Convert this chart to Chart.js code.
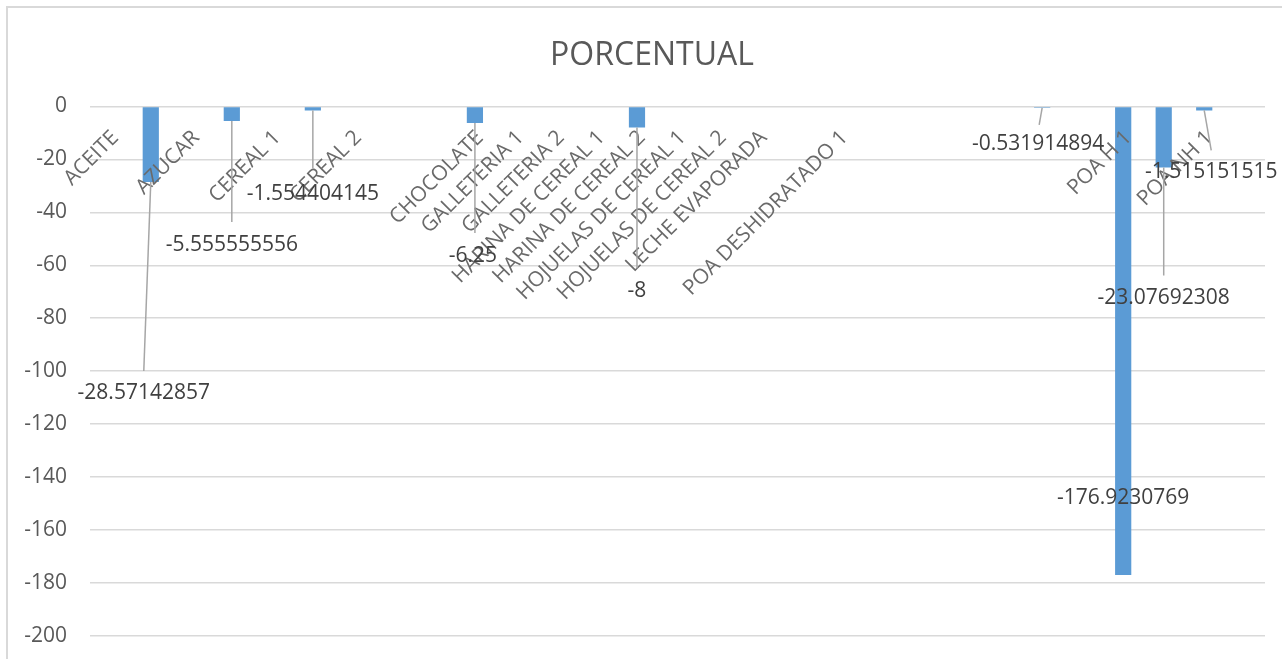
<!DOCTYPE html>
<html>
<head>
<meta charset="utf-8">
<title>PORCENTUAL</title>
<script src="https://cdn.jsdelivr.net/npm/chart.js@4.4.0/dist/chart.umd.min.js"></script>
<style>
  html, body { margin: 0; padding: 0; background: #fff; }
  #wrap { width: 1282px; height: 659px; position: relative; }
</style>
</head>
<body>
<div id="wrap"><canvas id="chart"></canvas></div>
<script>
// 29 category slots; the sheet only labels some of them
const categories = [
  'ACEITE', '', 'AZUCAR', '', 'CEREAL 1', '', 'CEREAL 2', '', '',
  'CHOCOLATE', 'GALLETERIA 1', 'GALLETERIA 2', 'HARINA DE CEREAL 1', 'HARINA DE CEREAL 2',
  'HOJUELAS DE CEREAL 1', 'HOJUELAS DE CEREAL 2', 'LECHE EVAPORADA', '', 'POA DESHIDRATADO 1',
  '', '', '', '', '', '', 'POA H 1', '', 'POA NH 1', ''
];
const porcentual = [
  null, -28.57142857, null, -5.555555556, null, -1.554404145, null, null, null,
  -6.25, null, null, null, -8,
  null, null, null, null, null,
  null, null, null, null, -0.531914894, null, -176.9230769, -23.07692308, -1.515151515, null
];
const yTicks = { min: -200, max: 0, step: 20 };

// where each data label sits, in px from the bar end (dx,dy = text centre, lx,ly = leader line end)
const labelPlacement = {
  1:  { dx: -7, dy: 211, lx: -7, ly: 189 },
  3:  { dx: 0,  dy: 124, lx: 0,  ly: 101 },
  5:  { dx: 0,  dy: 83,  lx: 0,  ly: 58 },
  9:  { dx: -2, dy: 133, lx: 0,  ly: 110 },
  13: { dx: 0,  dy: 163, lx: 0,  ly: 141 },
  23: { dx: -4, dy: 36,  lx: -3, ly: 17 },
  25: { dx: 0,  dy: -77, lx: null, ly: null },
  26: { dx: 0,  dy: 131, lx: 0,  ly: 108 },
  27: { dx: 7,  dy: 62,  lx: 7,  ly: 40 }
};

const FONT = '"Open Sans", "Noto Sans", sans-serif';

const excelBits = {
  id: 'excelBits',
  beforeDraw(chart) {
    const ctx = chart.ctx;
    ctx.save();
    ctx.strokeStyle = '#d9d9d9';
    ctx.lineWidth = 2;
    ctx.beginPath();
    ctx.moveTo(7, chart.height + 5);
    ctx.lineTo(7, 7);
    ctx.lineTo(chart.width + 5, 7);
    ctx.stroke();
    ctx.restore();
  },
  afterDatasetsDraw(chart) {
    const ctx = chart.ctx;
    const xs = chart.scales.x, ys = chart.scales.y;
    const meta = chart.getDatasetMeta(0);
    const zeroY = ys.getPixelForValue(0);

    ctx.save();
    // category names, rotated like the sheet
    ctx.font = '21px ' + FONT;
    ctx.fillStyle = '#6a6a6a';
    ctx.textAlign = 'right';
    ctx.textBaseline = 'middle';
    categories.forEach((c, i) => {
      if (!c) return;
      const x = xs.getPixelForValue(i) + 5;
      ctx.save();
      ctx.translate(x, zeroY + 28);
      ctx.rotate(-Math.PI / 4);
      ctx.fillText(c, 0, 0);
      ctx.restore();
    });

    // data labels with leader lines
    ctx.textAlign = 'center';
    porcentual.forEach((v, i) => {
      if (v === null) return;
      const bar = meta.data[i];
      const p = labelPlacement[i] || { dx: 0, dy: 20, lx: null, ly: null };
      if (p.lx !== null) {
        ctx.strokeStyle = '#a6a6a6';
        ctx.lineWidth = 1.5;
        ctx.beginPath();
        ctx.moveTo(bar.x, bar.y);
        ctx.lineTo(bar.x + p.lx, bar.y + p.ly);
        ctx.stroke();
      }
      ctx.fillStyle = '#404040';
      ctx.fillText(String(v), bar.x + p.dx, bar.y + p.dy);
    });
    ctx.restore();
  }
};

new Chart(document.getElementById('chart'), {
  type: 'bar',
  data: {
    labels: categories,
    datasets: [{
      label: 'PORCENTUAL',
      data: porcentual,
      backgroundColor: '#5b9bd5',
      barPercentage: 0.4,
      categoryPercentage: 1.0
    }]
  },
  options: {
    responsive: true,
    maintainAspectRatio: false,
    animation: false,
    layout: { padding: { left: 22, right: 0, top: 0, bottom: 23 } },
    plugins: {
      legend: { display: false },
      tooltip: { enabled: false },
      title: {
        display: true,
        text: 'PORCENTUAL',
        color: '#595959',
        font: { family: FONT, size: 32, weight: 'normal' },
        padding: { top: 37, bottom: 31 }
      }
    },
    scales: {
      x: { display: false },
      y: {
        min: yTicks.min,
        max: yTicks.max,
        afterFit(scale) {
          scale.width = 68;
          scale.paddingTop = 0;
          scale.paddingBottom = 0;
        },
        ticks: {
          stepSize: yTicks.step,
          color: '#595959',
          padding: 23,
          font: { family: FONT, size: 21 }
        },
        grid: { color: '#d9d9d9', lineWidth: 1.5, drawTicks: false },
        border: { display: false }
      },
      // empty right-hand spacer so the plot stops where the sheet's does
      spacer: {
        position: 'right',
        display: true,
        afterFit(scale) {
          scale.width = 17;
          scale.paddingTop = 0;
          scale.paddingBottom = 0;
        },
        ticks: { display: false },
        grid: { display: false },
        border: { display: false }
      }
    }
  },
  plugins: [excelBits]
});
</script>
</body>
</html>
